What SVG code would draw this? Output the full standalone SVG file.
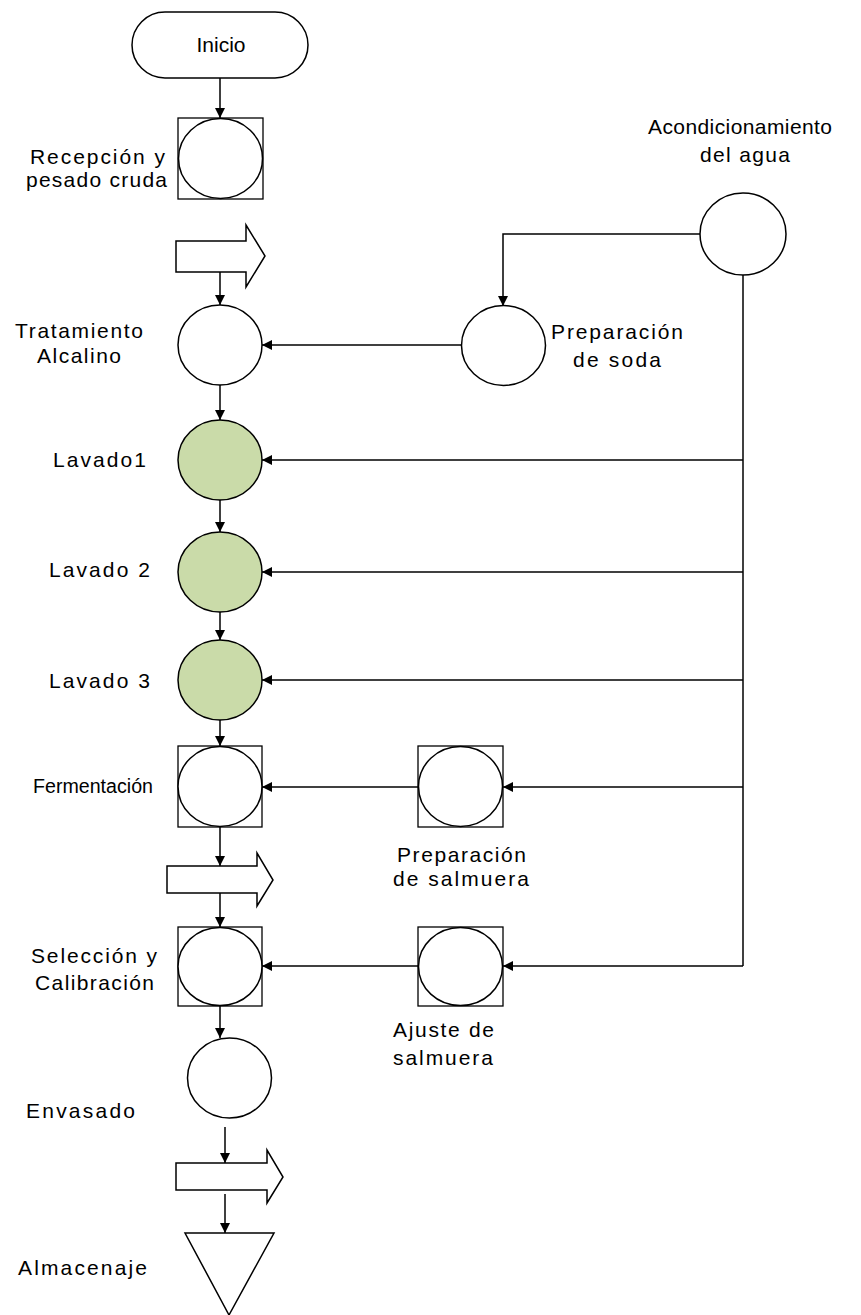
<svg xmlns="http://www.w3.org/2000/svg" width="861" height="1315" viewBox="0 0 861 1315">
<style>
.s{fill:#fff;stroke:#000;stroke-width:1.5}
.g{fill:#CADBA9;stroke:#000;stroke-width:1.5}
.sq{fill:#fff;stroke:#000;stroke-width:1.3}
.c{fill:none;stroke:#000;stroke-width:1.5}
text{font-family:"Liberation Sans",Arial,sans-serif;font-size:21px;fill:#000}
.sm{font-size:19.6px}
</style>
<defs>
<marker id="a" viewBox="0 0 10 10" refX="10" refY="5" markerWidth="10" markerHeight="10" markerUnits="userSpaceOnUse" orient="auto">
<path d="M0,0 L10,5 L0,10 z" fill="#000"/>
</marker>
</defs>
<g id="connectors">
<path class="c" d="M220,78 V118" marker-end="url(#a)"/>
<path class="c" d="M220,272 V305" marker-end="url(#a)"/>
<path class="c" d="M220,385 V420" marker-end="url(#a)"/>
<path class="c" d="M220,500 V532" marker-end="url(#a)"/>
<path class="c" d="M220,612 V640" marker-end="url(#a)"/>
<path class="c" d="M220,720 V746" marker-end="url(#a)"/>
<path class="c" d="M220,827 V866" marker-end="url(#a)"/>
<path class="c" d="M220,893 V927" marker-end="url(#a)"/>
<path class="c" d="M220,1006 V1038" marker-end="url(#a)"/>
<path class="c" d="M225,1127 V1163" marker-end="url(#a)"/>
<path class="c" d="M225,1194 V1233" marker-end="url(#a)"/>
<path class="c" d="M461,345 H262" marker-end="url(#a)"/>
<path class="c" d="M700,234 H503 V306" marker-end="url(#a)"/>
<path class="c" d="M743,275 V966"/>
<path class="c" d="M743,460 H262" marker-end="url(#a)"/>
<path class="c" d="M743,572 H262" marker-end="url(#a)"/>
<path class="c" d="M743,680 H262" marker-end="url(#a)"/>
<path class="c" d="M743,787 H503" marker-end="url(#a)"/>
<path class="c" d="M743,966 H503" marker-end="url(#a)"/>
<path class="c" d="M418,787 H262" marker-end="url(#a)"/>
<path class="c" d="M418,966 H262" marker-end="url(#a)"/>
</g>
<g id="inicio">
<rect class="s" x="132" y="12" width="176" height="66" rx="33" ry="33"/>
<text x="221" y="52" text-anchor="middle">Inicio</text>
</g>
<g id="recepcion">
<rect class="sq" x="178" y="118" width="85" height="81"/>
<ellipse class="s" cx="220.5" cy="158.5" rx="42" ry="40"/>
<text x="30" y="164" textLength="135" lengthAdjust="spacing">Recepción y</text>
<text x="26" y="187" textLength="141" lengthAdjust="spacing">pesado cruda</text>
</g>
<g id="transporte1">
<path class="s" d="M176,241 H246 V225 L265,256 L246,287 V272 H176 Z"/>
</g>
<g id="tratamiento">
<ellipse class="s" cx="220" cy="345" rx="42" ry="40"/>
<text x="15" y="338" textLength="128" lengthAdjust="spacing">Tratamiento</text>
<text x="37" y="363" textLength="84" lengthAdjust="spacing">Alcalino</text>
</g>
<g id="acondicionamiento">
<ellipse class="s" cx="743" cy="234" rx="43" ry="41"/>
<text x="648" y="134" textLength="184" lengthAdjust="spacing">Acondicionamiento</text>
<text x="700" y="162" textLength="90" lengthAdjust="spacing">del agua</text>
</g>
<g id="soda">
<ellipse class="s" cx="503.5" cy="345.5" rx="42" ry="40"/>
<text x="551" y="339" textLength="132" lengthAdjust="spacing">Preparación</text>
<text x="573" y="367" textLength="88" lengthAdjust="spacing">de soda</text>
</g>
<g id="lavado1">
<ellipse class="g" cx="220" cy="460" rx="42" ry="40"/>
<text x="53" y="467" textLength="93" lengthAdjust="spacing">Lavado1</text>
</g>
<g id="lavado2">
<ellipse class="g" cx="220" cy="572" rx="42" ry="40"/>
<text x="49" y="577" textLength="101" lengthAdjust="spacing">Lavado 2</text>
</g>
<g id="lavado3">
<ellipse class="g" cx="220" cy="680" rx="42" ry="40"/>
<text x="49" y="688" textLength="101" lengthAdjust="spacing">Lavado 3</text>
</g>
<g id="fermentacion">
<rect class="sq" x="178" y="746" width="84" height="81"/>
<ellipse class="s" cx="220" cy="786.5" rx="42" ry="40"/>
<text class="sm" x="33" y="793" textLength="120" lengthAdjust="spacingAndGlyphs">Fermentación</text>
</g>
<g id="salmuera">
<rect class="sq" x="418" y="746" width="85" height="81"/>
<ellipse class="s" cx="460.5" cy="786.5" rx="42" ry="40"/>
<text x="397" y="862" textLength="129" lengthAdjust="spacing">Preparación</text>
<text x="393" y="886" textLength="136" lengthAdjust="spacing">de salmuera</text>
</g>
<g id="transporte2">
<path class="s" d="M167,866 H257 V853 L273,880 L257,906 V893 H167 Z"/>
</g>
<g id="seleccion">
<rect class="sq" x="178" y="927" width="84" height="79"/>
<ellipse class="s" cx="220" cy="966.5" rx="42" ry="39"/>
<text x="31" y="963" textLength="126" lengthAdjust="spacing">Selección y</text>
<text x="35" y="990" textLength="119" lengthAdjust="spacing">Calibración</text>
</g>
<g id="ajuste">
<rect class="sq" x="418" y="927" width="85" height="79"/>
<ellipse class="s" cx="460.5" cy="966.5" rx="42" ry="39"/>
<text x="393" y="1037" textLength="101" lengthAdjust="spacing">Ajuste de</text>
<text x="393" y="1065" textLength="100" lengthAdjust="spacing">salmuera</text>
</g>
<g id="envasado">
<ellipse class="s" cx="229.5" cy="1078" rx="42" ry="40"/>
<text x="26" y="1118" textLength="109" lengthAdjust="spacing">Envasado</text>
</g>
<g id="transporte3">
<path class="s" d="M176,1163 H267 V1150 L283,1177 L267,1203 V1190 H176 Z"/>
</g>
<g id="almacenaje">
<path class="s" d="M185,1233 H274 L229,1315 Z"/>
<text x="18" y="1275" textLength="129" lengthAdjust="spacing">Almacenaje</text>
</g>
</svg>
